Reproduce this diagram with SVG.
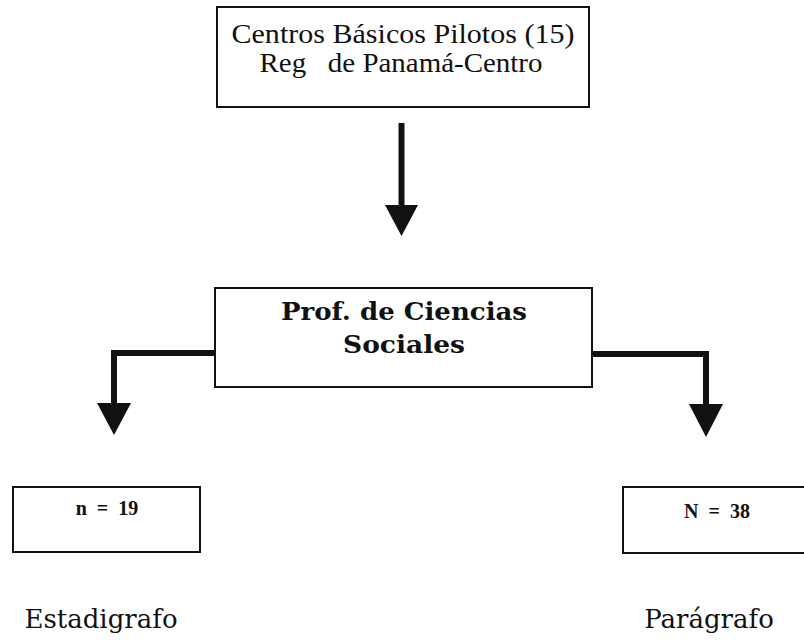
<svg xmlns="http://www.w3.org/2000/svg" width="804" height="640" viewBox="0 0 804 640">
<style>
.box{fill:#fff;stroke:#111;stroke-width:2}
.conn{fill:none;stroke:#111;stroke-width:6}
.head{fill:#111}
.tm{font-family:"Liberation Serif",serif;fill:#111;text-anchor:middle}
.bk{font-family:"DejaVu Serif",serif;fill:#111;text-anchor:middle}
</style>
<rect width="804" height="640" fill="#fff"/>
<g id="connectors">
<line class="conn" x1="401.5" y1="123" x2="401.5" y2="208"/>
<polygon class="head" points="385,205 418,205 401.5,236"/>
<polyline class="conn" points="215,353 114,353 114,406"/>
<polygon class="head" points="97,403 131,403 114,435"/>
<polyline class="conn" points="592,354 706,354 706,407"/>
<polygon class="head" points="689,404 723,404 706,437"/>
</g>
<g id="node-centros">
<rect class="box" x="217" y="7" width="372" height="100"/>
<text class="tm" x="403" y="43" font-size="27" textLength="343" lengthAdjust="spacingAndGlyphs">Centros Básicos Pilotos (15)</text>
<text class="tm" x="401" y="72" font-size="27" xml:space="preserve" textLength="283" lengthAdjust="spacingAndGlyphs">Reg   de Panamá-Centro</text>
</g>
<g id="node-prof">
<rect class="box" x="215" y="288" width="377" height="99"/>
<text class="bk" x="404" y="320" font-size="24" font-weight="bold" textLength="246" lengthAdjust="spacingAndGlyphs">Prof. de Ciencias</text>
<text class="bk" x="404" y="353" font-size="24" font-weight="bold" textLength="122" lengthAdjust="spacingAndGlyphs">Sociales</text>
</g>
<g id="node-n19">
<rect class="box" x="13" y="487" width="187" height="65"/>
<text class="tm" x="107" y="515" font-size="20" font-weight="bold" xml:space="preserve">n  =  19</text>
<text class="bk" x="101" y="628" font-size="26">Estadigrafo</text>
</g>
<g id="node-N38">
<rect class="box" x="623" y="487" width="190" height="66"/>
<text class="tm" x="717" y="518" font-size="20" font-weight="bold" xml:space="preserve">N  =  38</text>
<text class="bk" x="709" y="628" font-size="26">Parágrafo</text>
</g>
</svg>
